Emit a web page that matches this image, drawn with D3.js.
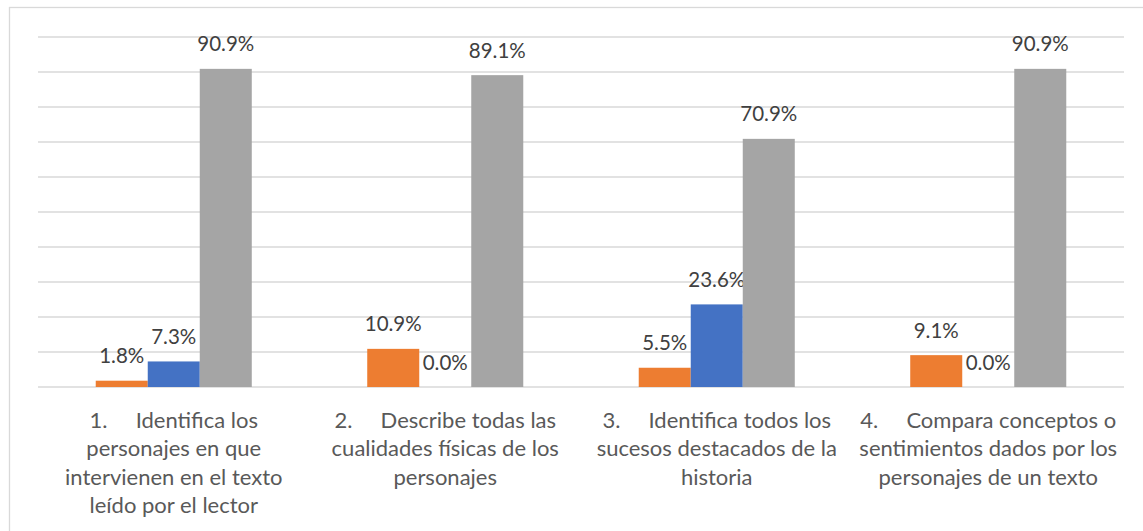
<!DOCTYPE html>
<html>
<head>
<meta charset="utf-8">
<script src="https://cdn.jsdelivr.net/npm/d3@7"></script>
<style>
  html, body { margin: 0; padding: 0; background: #fff; }
  svg { display: block; font-family: Lato, "Open Sans", sans-serif; }
</style>
</head>
<body>
<svg id="chart" width="1143" height="531"></svg>
<script>
// categories (line breaks as in the original axis labels)
var categories = [
  "1.     Identifica los\npersonajes en que\nintervienen en el texto\nleído por el lector",
  "2.     Describe todas las\ncualidades físicas de los\npersonajes",
  "3.     Identifica todos los\nsucesos destacados de la\nhistoria",
  "4.     Compara conceptos o\nsentimientos dados por los\npersonajes de un texto"
]
var seriesNames = ["Serie 1", "Serie 2", "Serie 3"]
var serie1 = [1.8, 10.9, 5.5, 9.1]
var serie2 = [7.3, 0.0, 23.6, 0.0]
var serie3 = [90.9, 89.1, 70.9, 90.9]
var yTicks = [0, 10, 20, 30, 40, 50, 60, 70, 80, 90, 100]
var colors = ["#ED7D31", "#4472C4", "#A5A5A5"]

var main = function() {

    var allSeries = [serie1, serie2, serie3]
    var svg = d3.select("#chart")

    // outer chart frame
    svg.append("rect")
       .attr("x", 9.5)
       .attr("y", 7.5)
       .attr("width", 1160)
       .attr("height", 560)
       .attr("fill", "none")
       .attr("stroke", "#d9d9d9")
       .attr("stroke-width", 1.3)

    var plotLeft = 38, plotRight = 1124
    var y = d3.scaleLinear()
              .domain([0, 100])
              .range([387, 37])

    var x0 = d3.scaleBand()
               .domain(d3.range(categories.length))
               .range([plotLeft, plotRight])

    var x1 = d3.scaleBand()
               .domain(d3.range(seriesNames.length))
               .range([0, x0.bandwidth()])
               .paddingOuter(1.11)

    // gridlines
    svg.append("g")
       .selectAll("line")
         .data(yTicks)
       .enter().append("line")
         .attr("x1", plotLeft)
         .attr("x2", plotRight)
         .attr("y1", function(d) { return y(d) })
         .attr("y2", function(d) { return y(d) })
         .attr("stroke", "#d9d9d9")
         .attr("stroke-width", 1.3)

    // bars
    var groups = svg.append("g")
                    .selectAll("g")
                      .data(allSeries)
                    .enter().append("g")
                      .attr("fill", function(d, i) { return colors[i] })

    groups.each(function(values, si) {
        var g = d3.select(this)
        g.selectAll("rect")
           .data(values)
         .enter().append("rect")
           .attr("x", function(d, ci) { return x0(ci) + x1(si) })
           .attr("width", x1.bandwidth())
           .attr("y", function(d) { return y(d) })
           .attr("height", function(d) { return y(0) - y(d) })

        g.selectAll("text")
           .data(values)
         .enter().append("text")
           .attr("x", function(d, ci) { return x0(ci) + x1(si) + x1.bandwidth() / 2 })
           .attr("y", function(d) { return y(d) - 17.5 })
           .attr("text-anchor", "middle")
           .attr("fill", "#404040")
           .style("font-size", "20.5px")
           .text(function(d) { return d.toFixed(1) + "%" })
    })

    // category labels
    var labels = svg.append("g")
                    .selectAll("text")
                      .data(categories)
                    .enter().append("text")
                      .attr("text-anchor", "middle")
                      .attr("fill", "#595959")
                      .style("font-size", "22px")
                      .style("white-space", "pre")
                      .attr("transform", function(d, i) {
                          return "translate(" + (x0(i) + x0.bandwidth() / 2) + ",428)"
                      })

    labels.each(function(d) {
        var t = d3.select(this)
        d.split("\n").forEach(function(line, k) {
            t.append("tspan")
             .attr("x", 0)
             .attr("y", k * 28.3)
             .text(line)
        })
    })
}

main()
</script>
</body>
</html>
